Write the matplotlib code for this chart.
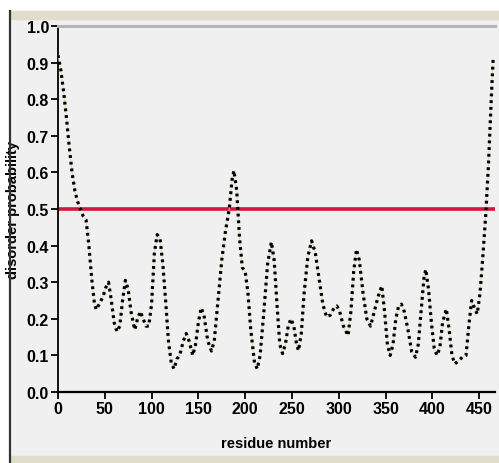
import numpy as np
import matplotlib
matplotlib.use("Agg")
import matplotlib.pyplot as plt
from matplotlib.patches import Rectangle
from matplotlib.lines import Line2D

plt.rcParams['font.family'] = ['Liberation Sans', 'DejaVu Sans']

# data
residue = [0, 3, 6, 9, 12, 15, 18, 21, 24, 27, 30, 33, 36, 39, 41, 44, 48, 51, 54, 57,
           60, 63, 66, 69, 72, 75, 78, 82, 85, 88, 91, 94, 97, 100, 103, 106, 109, 112, 115, 118,
           121, 124, 127, 130, 134, 137, 140, 144, 147, 150, 153, 156, 160, 164, 167, 171, 175, 179, 183, 186,
           188, 191, 194, 197, 200, 203, 206, 210, 213, 216, 220, 224, 228, 231, 234, 237, 240, 243, 246, 249,
           252, 255, 257, 260, 263, 267, 271, 275, 279, 283, 287, 291, 295, 298, 301, 305, 310, 313, 316, 319,
           322, 326, 330, 334, 338, 342, 346, 349, 352, 355, 358, 361, 364, 367, 370, 374, 378, 382, 385, 388,
           391, 393, 396, 399, 402, 405, 408, 411, 415, 418, 421, 424, 428, 432, 436, 439, 442, 445, 448, 451,
           454, 457, 460, 463, 465]
prob = [0.92, 0.88, 0.82, 0.75, 0.67, 0.60, 0.55, 0.52, 0.50, 0.48, 0.47, 0.40, 0.31, 0.24, 0.225, 0.24, 0.26, 0.285, 0.30, 0.25,
        0.19, 0.165, 0.18, 0.25, 0.305, 0.28, 0.22, 0.17, 0.20, 0.22, 0.20, 0.18, 0.18, 0.24, 0.38, 0.43, 0.42, 0.35, 0.25, 0.14,
        0.08, 0.063, 0.09, 0.10, 0.14, 0.16, 0.14, 0.10, 0.13, 0.19, 0.23, 0.21, 0.14, 0.112, 0.14, 0.25, 0.36, 0.44, 0.50, 0.58,
        0.605, 0.55, 0.42, 0.34, 0.33, 0.27, 0.17, 0.08, 0.063, 0.10, 0.22, 0.35, 0.41, 0.36, 0.24, 0.13, 0.105, 0.13, 0.18, 0.20,
        0.18, 0.13, 0.113, 0.16, 0.27, 0.37, 0.413, 0.38, 0.31, 0.24, 0.205, 0.21, 0.23, 0.235, 0.22, 0.18, 0.154, 0.22, 0.33, 0.39,
        0.36, 0.27, 0.20, 0.18, 0.22, 0.26, 0.29, 0.22, 0.13, 0.10, 0.13, 0.20, 0.235, 0.24, 0.22, 0.17, 0.11, 0.095, 0.13, 0.22,
        0.31, 0.335, 0.28, 0.19, 0.12, 0.10, 0.12, 0.19, 0.227, 0.17, 0.10, 0.077, 0.085, 0.095, 0.10, 0.18, 0.25, 0.23, 0.213, 0.27,
        0.37, 0.48, 0.62, 0.80, 0.91]
threshold = 0.5
xticks = [0, 50, 100, 150, 200, 250, 300, 350, 400, 450]
yticks = [0.0, 0.1, 0.2, 0.3, 0.4, 0.5, 0.6, 0.7, 0.8, 0.9, 1.0]

fig = plt.figure(figsize=(4.99, 4.64), dpi=100, facecolor="white")

# window-like frame
bg = "#f0f0f0"
fig.add_artist(Rectangle((10/499, 0), 1, 0.974, transform=fig.transFigure, color=bg, zorder=0))
fig.add_artist(Rectangle((10/499, 0.957), 1, 0.017, transform=fig.transFigure, color="#e2dccb", zorder=0))
fig.add_artist(Rectangle((10/499, 0), 1, 0.015, transform=fig.transFigure, color="#e2dccb", zorder=0))
fig.add_artist(Line2D([10/499, 10/499], [0, 0.974], transform=fig.transFigure, color="#333333", lw=1.6))

ax = fig.add_axes([58/499, 71/464, 437/499, 366/464])
ax.set_facecolor(bg)
ax.set_xlim(0, 467)
ax.set_ylim(0, 1.0)

ax.spines['right'].set_visible(False)
ax.spines['top'].set_color("#b4b4bc")
ax.spines['top'].set_linewidth(2.2)
ax.spines['left'].set_linewidth(1.3)
ax.spines['bottom'].set_linewidth(1.6)

ax.axhline(threshold, color="#d4163f", lw=2.6, zorder=2)

# thin faint connector then black dots
ax.plot(residue, prob, color="#d8d8b0", lw=0.6, zorder=3)
ax.plot(residue, prob, color="black", lw=2.3, ls=(0, (0.9, 1.2)), zorder=4)

ax.set_xticks(xticks)
ax.set_xticklabels([str(t) for t in xticks])
ax.set_yticks(yticks)
ax.set_yticklabels(["%.1f" % t for t in yticks])
ax.tick_params(axis='both', length=5, width=1.3, labelsize=11.5, pad=1.5)
for lab in ax.get_xticklabels() + ax.get_yticklabels():
    lab.set_fontweight('bold')

ax.set_xlabel("residue number", fontsize=10.5, fontweight='bold')
ax.set_ylabel("disorder probability", fontsize=10.5, fontweight='bold')
ax.xaxis.set_label_coords(0.5, -0.12)
ax.yaxis.set_label_coords(-0.087, 0.5)

fig.savefig("out.png", dpi=100, facecolor=fig.get_facecolor())
